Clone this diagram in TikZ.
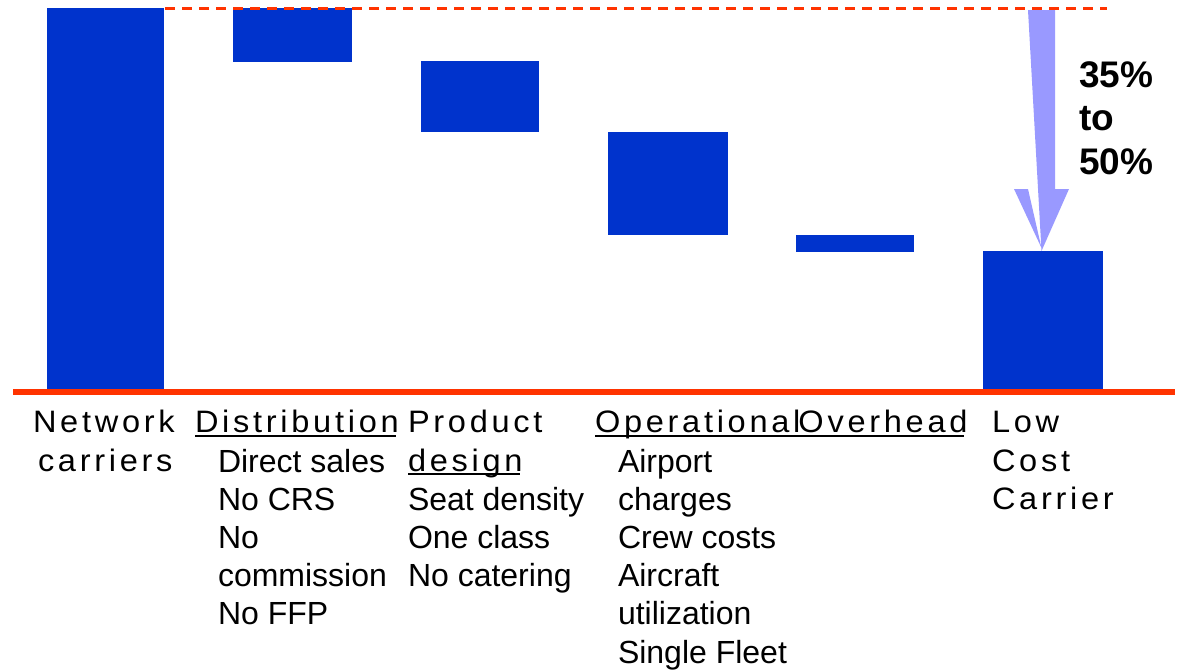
\documentclass[tikz,border=0pt]{standalone}
\usepackage{fontspec}
\setmainfont{Liberation Sans}
\newfontfamily\widefont[LetterSpace=12,FakeStretch=1.05]{Liberation Sans}
\definecolor{barblue}{RGB}{0,51,204}
\definecolor{linered}{RGB}{255,51,0}
\definecolor{arrowlilac}{RGB}{153,153,255}
\begin{document}
\begin{tikzpicture}[x=1pt,y=-1pt,
  bar/.style={fill=barblue,draw=none,inner sep=0,outer sep=0,anchor=north west},
  cat/.style={inner sep=0,outer sep=0,anchor=base west,font=\widefont\fontsize{31}{37}\selectfont},
  item/.style={inner sep=0,outer sep=0,anchor=base west,font=\fontsize{32}{38}\selectfont},
  pct/.style={inner sep=0,outer sep=0,anchor=base west,font=\bfseries\fontsize{37}{42}\selectfont},
  uline/.style={line width=2pt,black},
]
\useasboundingbox (0,0) rectangle (1179,670);
% bars
\node[bar,minimum width=117pt,minimum height=381pt] (b1) at (47,8) {};
\node[bar,minimum width=119pt,minimum height=54pt] (b2) at (233,8) {};
\node[bar,minimum width=118pt,minimum height=71pt] (b3) at (421,61) {};
\node[bar,minimum width=120pt,minimum height=103pt] (b4) at (608,132) {};
\node[bar,minimum width=118pt,minimum height=17pt] (b5) at (796,235) {};
\node[bar,minimum width=120pt,minimum height=138pt] (b6) at (983,251) {};
% dashed reference line
\coordinate (dl) at (165,8);
\coordinate (dr) at (1107,8);
\draw[linered,line width=3pt,dash pattern=on 10pt off 7pt] (dl) -- (dr);
% block arrow
\coordinate (atop) at (1041.5,10);
\fill[arrowlilac] ([xshift=-13.5pt]atop) -- ([xshift=13.5pt]atop) -- ([xshift=13.5pt]atop |- 0,189) -- ([xshift=27.5pt]atop |- 0,189) -- (b6.north -| atop) ++(0,-3) -- ([xshift=-27.5pt]atop |- 0,189) -- ([xshift=-13.5pt]atop |- 0,189) -- cycle;
% baseline
\coordinate (bl) at (13,392);
\coordinate (br) at (1175,392);
\draw[linered,line width=6pt] (bl) -- (br);
% percentages
\node[pct] (p1) at (1079,87) {35\%};
\node[pct] (p2) at (1079,130) {to};
\node[pct] (p3) at (1079,174) {50\%};
% category labels
\node[cat] (c1a) at (33,432.5) {Network};
\node[cat] (c1b) at (38,471) {carriers};
\node[cat] (c2) at (195,432.5) {Distribution};
\node[cat] (c3a) at (408,432.5) {Product};
\node[cat] (c3b) at (408,471) {design};
\node[cat] (c4) at (595,432.5) {Operational};
\node[cat] (c5) at ([xshift=-2pt]c4.base east) {Overhead};
\node[cat] (c6a) at (992,432.5) {Low};
\node[cat] (c6b) at (992,471) {Cost};
\node[cat] (c6c) at (992,509.5) {Carrier};
% underlines
\draw[uline] ([yshift=-3pt]c2.base west) -- ([yshift=-3pt,xshift=-3pt]c2.base east);
\draw[uline] ([yshift=-3pt]c3b.base west) -- ([yshift=-3pt,xshift=-3pt]c3b.base east);
\draw[uline] ([yshift=-3pt]c4.base west) -- ([yshift=-3pt,xshift=-3pt]c5.base east);
% distribution items
\node[item] (d1) at (218,472) {Direct sales};
\node[item] (d2) at (218,510.2) {No CRS};
\node[item] (d3) at (218,548.4) {No};
\node[item] (d4) at (218,586.6) {commission};
\node[item] (d5) at (218,624.8) {No FFP};
% product items
\node[item] (e1) at (408,510.2) {Seat density};
\node[item] (e2) at (408,548.4) {One class};
\node[item] (e3) at (408,586.6) {No catering};
% operational items
\node[item] (o1) at (618,472) {Airport};
\node[item] (o2) at (618,510.2) {charges};
\node[item] (o3) at (618,548.4) {Crew costs};
\node[item] (o4) at (618,586.6) {Aircraft};
\node[item] (o5) at (618,624.8) {utilization};
\node[item] (o6) at (618,663) {Single Fleet};
\end{tikzpicture}
\end{document}
